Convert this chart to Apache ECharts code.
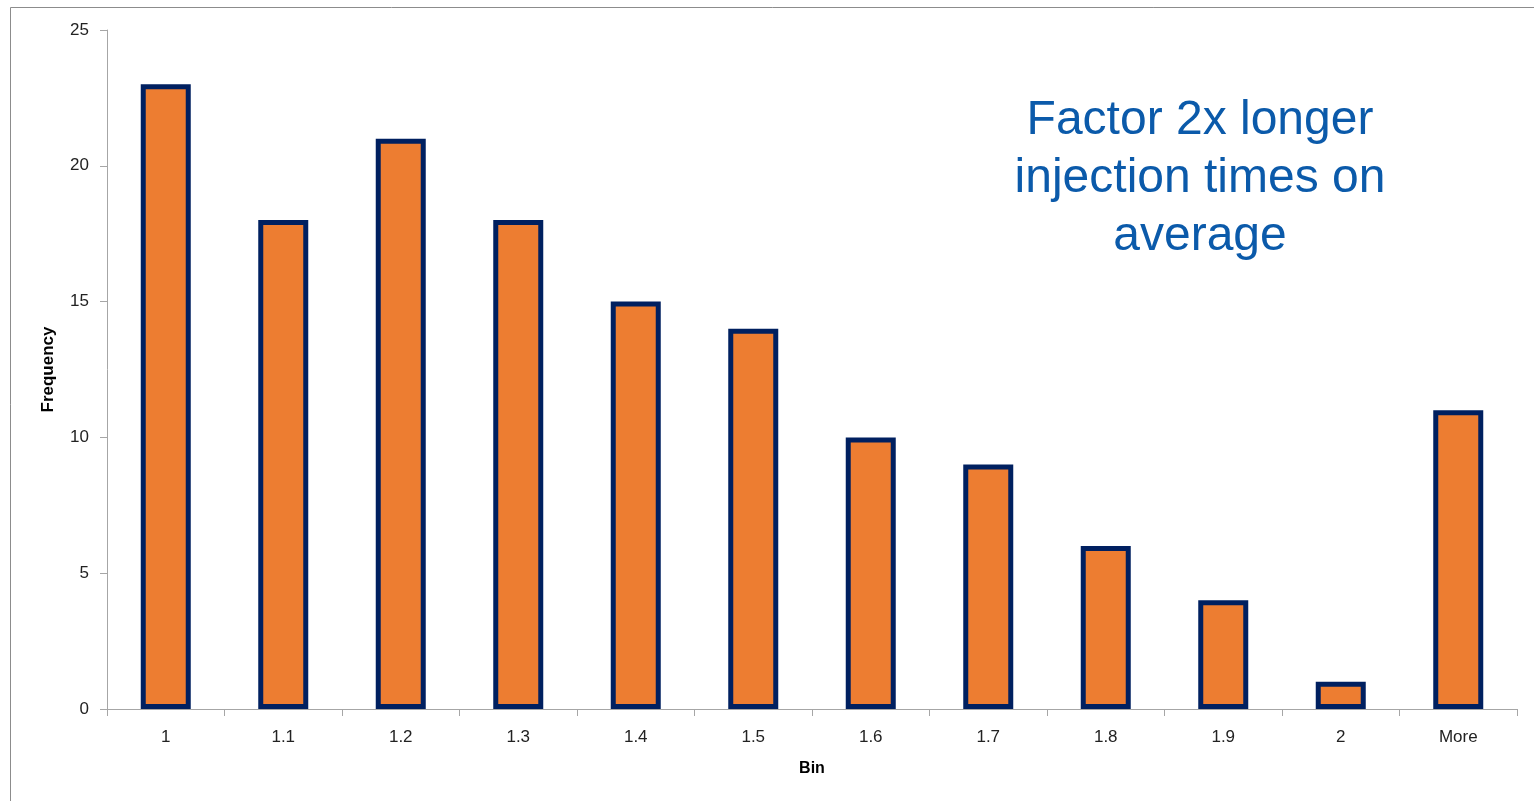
<!DOCTYPE html>
<html><head><meta charset="utf-8">
<script src="https://cdn.jsdelivr.net/npm/echarts@6/dist/echarts.min.js"></script>
<style>html,body{margin:0;padding:0;background:#fff}#c{width:1534px;height:801px}</style>
</head><body><div id="c"></div>
<script>
const categories = ['1','1.1','1.2','1.3','1.4','1.5','1.6','1.7','1.8','1.9','2','More'];
const frequency = [23, 18, 21, 18, 15, 14, 10, 9, 6, 4, 1, 11];
const yTicks = [0, 5, 10, 15, 20, 25];
const annotation = 'Factor 2x longer\ninjection times on\naverage';

const chart = echarts.init(document.getElementById('c'), null, {renderer: 'canvas'});
const font = '"Liberation Sans", Arial, sans-serif';
chart.setOption({
  animation: false,
  backgroundColor: '#fff',
  grid: {left: 107, right: 17, top: 30, bottom: 92},
  xAxis: {
    type: 'category', data: categories,
    name: 'Bin', nameLocation: 'middle', nameGap: 52,
    nameTextStyle: {fontFamily: font, fontSize: 16, fontWeight: 'bold', color: '#000'},
    axisLine: {lineStyle: {color: '#a6a6a6', width: 1}},
    axisTick: {show: true, length: 7, alignWithLabel: false, lineStyle: {color: '#a6a6a6'}},
    axisLabel: {fontFamily: font, fontSize: 17, color: '#222', margin: 20}
  },
  yAxis: {
    type: 'value', min: yTicks[0], max: yTicks[yTicks.length-1], interval: 5,
    name: 'Frequency', nameLocation: 'middle', nameGap: 50, nameRotate: 90,
    nameTextStyle: {fontFamily: font, fontSize: 17, fontWeight: 'bold', color: '#000'},
    axisLine: {show: true, lineStyle: {color: '#a6a6a6', width: 1}},
    axisTick: {show: true, length: 7, lineStyle: {color: '#a6a6a6'}},
    splitLine: {show: false},
    axisLabel: {fontFamily: font, fontSize: 17, color: '#222', margin: 18}
  },
  series: [{
    type: 'bar', data: frequency, barWidth: 50,
    itemStyle: {color: '#ED7D31', borderColor: '#002060', borderWidth: 5}
  }],
  graphic: [
    {type: 'rect', shape: {x: 10.5, y: 7.5, width: 1600, height: 900}, style: {fill: null, stroke: '#8c8c8c', lineWidth: 1}, z: -1},
    {type: 'text', left: 1000, top: 92, style: {
      text: annotation, fill: '#0B5AAA', font: '48px "Liberation Sans", Arial, sans-serif',
      textAlign: 'center', lineHeight: 58, width: 400
    }}
  ]
});
</script></body></html>
